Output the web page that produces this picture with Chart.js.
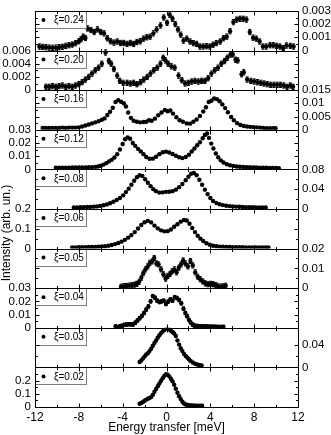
<!DOCTYPE html>
<html><head><meta charset="utf-8">
<script src="https://cdn.jsdelivr.net/npm/chart.js@4/dist/chart.umd.min.js"></script>
<style>html,body{margin:0;padding:0;background:#fff;}#wrap{width:331px;height:435px;position:relative;}</style>
</head><body><div id="wrap"><canvas id="c" width="331" height="435"></canvas></div>
<script>
// ---- data (energy in meV, intensity in arb. units) ----
const panelNames = ['ξ=0.24','ξ=0.20','ξ=0.16','ξ=0.12','ξ=0.08','ξ=0.06','ξ=0.05','ξ=0.04','ξ=0.03','ξ=0.02'];
const xTickLabels = [-12,-8,-4,0,4,8,12];
const yMax   = [0.003,0.006,0.015,0.03,0.08,0.2,0.02,0.03,0.07,0.3];
const yMajor = [0.001,0.002,0.005,0.01,0.04,0.1,0.01,0.01,0.04,0.1];
const labelSide = ['right','left','right','left','right','left','right','left','right','left'];
const labelTop = [true,true,true,true,true,true,true,true,false,false];
const errorBar = [0.0002,0.0004,0,0,0,0,0.0013,0.0013,0,0];

const e024 = [-11.6,-11.3,-11.0,-10.7,-10.4,-10.1,-9.8,-9.5,-9.2,-8.9,-8.6,-8.3,-8.0,-7.8,-7.6,-7.4,-7.2,-6.9,-6.6,-6.3,-6.0,-5.7,-5.4,-5.1,-4.8,-4.5,-4.2,-3.9,-3.6,-3.3,-3.0,-2.7,-2.4,-2.1,-1.8,-1.5,-1.2,-0.9,-0.55,-0.25,0.05,0.3,0.55,0.8,1.05,1.3,1.55,1.85,2.15,2.45,2.75,3.05,3.35,3.65,3.95,4.25,4.55,4.9,5.2,5.5,5.8,6.1,6.4,6.7,7.0,7.3,7.6,7.9,8.2,8.5,8.8,9.1,9.45,9.75,10.05,10.35,10.65,10.95,11.3,11.6];
const i024 = [.00030,.00027,.00025,.00022,.00020,.00022,.00025,.00028,.00035,.00040,.00045,.00055,.00070,.00085,.00105,.00095,.00167,.00155,.00140,.00160,.00140,.00130,.00093,.00070,.00060,.00068,.00057,.00057,.00050,.00057,.00050,.00064,.00070,.00090,.00100,.00105,.00130,.00160,.00190,.00250,.00210,.00270,.00240,.00200,.00160,.00120,.00075,.00090,.00068,.00056,.00050,.00030,.00030,.00033,.00030,.00044,.00056,.00068,.00093,.00105,.00146,.00215,.00234,.00240,.00240,.00234,.00140,.00097,.00090,.00068,.00030,.00030,.00040,.00040,.00035,.00030,.00018,.00038,.00035,.00030];

const e020 = [-11.0,-10.7,-10.4,-10.1,-9.8,-9.5,-9.2,-8.9,-8.6,-8.3,-8.0,-7.7,-7.4,-7.1,-6.8,-6.5,-6.2,-5.9,-5.56,-5.26,-5.05,-4.8,-4.5,-4.26,-3.95,-3.6,-3.3,-3.0,-2.7,-2.37,-2.07,-1.76,-1.46,-1.16,-0.85,-0.55,-0.3,-0.09,0.15,0.45,0.75,1.1,1.4,1.7,2.0,2.3,2.6,2.9,3.2,3.5,3.8,4.1,4.4,4.7,5.0,5.3,5.55,5.84,6.05,6.3,6.5,6.85,7.05,7.36,7.7,8.0,8.3,8.6,8.9,9.2,9.5,9.8,10.1,10.4,10.7,11.0,11.3,11.55];
const i020 = [.0005,.0005,.0006,.0005,.0006,.0007,.0005,.0006,.0005,.0007,.0009,.0012,.0016,.0020,.0025,.0030,.0034,.0040,.0057,.0044,.0040,.0032,.0022,.0014,.0011,.0011,.0010,.0011,.0009,.0012,.0016,.0020,.0025,.0030,.0034,.0040,.0049,.0045,.0040,.0036,.0034,.0022,.0015,.0010,.0011,.0013,.0014,.0013,.0014,.0014,.0018,.0025,.0030,.0034,.0040,.0044,.0049,.0054,.0054,.0046,.0045,.0024,.0027,.0016,.0014,.0013,.0012,.0011,.0010,.0009,.0008,.0008,.0008,.0008,.0007,.0005,.0007,.0005];

const e016 = [-11.3,-11.0,-10.7,-10.4,-10.1,-9.8,-9.5,-9.2,-8.9,-8.6,-8.3,-8.0,-7.7,-7.4,-7.1,-6.8,-6.5,-6.2,-5.9,-5.65,-5.4,-5.15,-4.9,-4.65,-4.4,-4.15,-3.9,-3.7,-3.5,-3.25,-3.0,-2.7,-2.4,-2.1,-1.85,-1.6,-1.35,-1.05,-0.75,-0.45,-0.15,0.1,0.35,0.6,0.9,1.2,1.5,1.85,2.15,2.45,2.75,3.05,3.35,3.6,3.85,4.1,4.35,4.6,4.85,5.1,5.35,5.6,5.9,6.15,6.45,6.75,7.05,7.35,7.65,7.95,8.25,8.55,8.85,9.15,9.45,9.75,9.95];
const i016 = [.0007,.0007,.0007,.0007,.0007,.0007,.0008,.0007,.0008,.0008,.0008,.0009,.0012,.0016,.0020,.0024,.0028,.0032,.0038,.0043,.0056,.0068,.0083,.0105,.0112,.0106,.0100,.0088,.0065,.0045,.0034,.0030,.0028,.0029,.0030,.0036,.0034,.0042,.0055,.0065,.0075,.0070,.0073,.0061,.0047,.0036,.0030,.0024,.0023,.0030,.0039,.0052,.0069,.0085,.0105,.0110,.0118,.0116,.0108,.0096,.0082,.0066,.0048,.0036,.0025,.0018,.0014,.0012,.0011,.0010,.0009,.0008,.0007,.0006,.0006,.0006,.0006];

const e012 = [-10.1,-9.8,-9.5,-9.2,-8.9,-8.6,-8.3,-8.0,-7.7,-7.4,-7.1,-6.8,-6.5,-6.25,-6.0,-5.75,-5.5,-5.25,-5.0,-4.75,-4.5,-4.25,-4.0,-3.78,-3.55,-3.32,-3.08,-2.85,-2.6,-2.35,-2.1,-1.85,-1.55,-1.25,-0.95,-0.65,-0.35,-0.05,0.25,0.55,0.85,1.15,1.45,1.75,2.05,2.3,2.55,2.8,3.05,3.3,3.5,3.7,3.88,4.08,4.28,4.5,4.72,4.95,5.2,5.5,5.8,6.1,6.4,6.7,7.0,7.3,7.6,7.9,8.2,8.5,8.8,9.1,9.4,9.7,10.0,10.25];
const i012 = [.0012,.0012,.0013,.0013,.0013,.0014,.0014,.0014,.0015,.0015,.0016,.0017,.0019,.0022,.0027,.0036,.0047,.0060,.0072,.0090,.0115,.0150,.0192,.0228,.0242,.0232,.0200,.0178,.0155,.0136,.0115,.0094,.0080,.0081,.0095,.0115,.0130,.0134,.0128,.0116,.0103,.0092,.0085,.0093,.0110,.0135,.0158,.0182,.0205,.0235,.0260,.0272,.0238,.0195,.0158,.0120,.0092,.0068,.0052,.0039,.0031,.0026,.0022,.0020,.0018,.0017,.0016,.0015,.0014,.0013,.0012,.0012,.0011,.0010,.0010,.0009];

const e008 = [-8.45,-8.15,-7.85,-7.55,-7.25,-6.95,-6.65,-6.35,-6.05,-5.75,-5.45,-5.15,-4.85,-4.55,-4.25,-3.95,-3.7,-3.45,-3.2,-2.95,-2.7,-2.45,-2.2,-1.95,-1.7,-1.45,-1.2,-0.95,-0.65,-0.35,-0.05,0.25,0.55,0.85,1.15,1.45,1.75,2.0,2.25,2.5,2.75,3.0,3.25,3.5,3.75,4.0,4.25,4.55,4.85,5.15,5.45,5.75,6.05,6.35,6.65,6.95,7.25,7.55,7.85,8.15,8.45,8.75,9.05];
const i008 = [.0030,.0032,.0034,.0036,.0039,.0042,.0046,.0052,.0062,.0075,.0092,.0115,.0145,.0180,.0220,.0275,.0340,.0410,.0490,.0570,.0640,.0680,.0665,.0600,.0530,.0460,.0400,.0360,.0330,.0335,.0345,.0348,.0360,.0390,.0440,.0505,.0580,.0650,.0710,.0725,.0680,.0590,.0490,.0390,.0300,.0220,.0160,.0120,.0095,.0078,.0066,.0058,.0052,.0047,.0043,.0040,.0037,.0035,.0033,.0032,.0031,.0030,.0030];

const e006 = [-8.6,-8.3,-8.0,-7.7,-7.4,-7.1,-6.8,-6.5,-6.2,-5.9,-5.6,-5.3,-5.0,-4.7,-4.4,-4.1,-3.8,-3.5,-3.2,-2.9,-2.6,-2.3,-2.0,-1.7,-1.4,-1.1,-0.8,-0.5,-0.2,0.1,0.4,0.7,1.0,1.3,1.6,1.85,2.1,2.35,2.6,2.85,3.1,3.35,3.65,3.95,4.25,4.55,4.85,5.15,5.45,5.75,6.05,6.35,6.65,6.95,7.25,7.55,7.85,8.15,8.45,8.75,9.05,9.3];
const i006 = [.0060,.0062,.0065,.0068,.0070,.0075,.0080,.0085,.0095,.0105,.0118,.0140,.0180,.0225,.0280,.0350,.0440,.0550,.0680,.0830,.1010,.1190,.1330,.1400,.1320,.1160,.1020,.0920,.0870,.0880,.0960,.1100,.1230,.1360,.1440,.1420,.1250,.1040,.0830,.0650,.0500,.0380,.0270,.0195,.0145,.0115,.0098,.0088,.0080,.0075,.0071,.0068,.0066,.0064,.0062,.0060,.0059,.0058,.0057,.0056,.0055,.0055];

const e005 = [-4.15,-3.9,-3.65,-3.4,-3.15,-2.9,-2.7,-2.5,-2.3,-2.12,-1.92,-1.72,-1.52,-1.32,-1.12,-0.92,-0.72,-0.5,-0.28,-0.08,0.12,0.32,0.52,0.72,0.92,1.12,1.32,1.52,1.72,1.95,2.18,2.4,2.62,2.85,3.08,3.32,3.55,3.78,4.02,4.26,4.5,4.75,5.0,5.2,5.4];
const i005 = [.0007,.0010,.0011,.0013,.0015,.0018,.0022,.0032,.0052,.0075,.0095,.0110,.0128,.0135,.0152,.0125,.0120,.0095,.0070,.0048,.0062,.0072,.0085,.0095,.0080,.0103,.0120,.0140,.0125,.0110,.0137,.0115,.0080,.0058,.0045,.0034,.0024,.0020,.0022,.0020,.0015,.0009,.0008,.0009,.0012];

const e004 = [-4.65,-4.45,-4.25,-4.05,-3.85,-3.65,-3.45,-3.25,-3.05,-2.85,-2.65,-2.45,-2.25,-2.05,-1.85,-1.65,-1.45,-1.25,-1.05,-0.85,-0.65,-0.45,-0.25,-0.05,0.15,0.35,0.55,0.75,0.95,1.15,1.35,1.55,1.72,1.88,2.05,2.2,2.38,2.55,2.75,2.95,3.2,3.45,3.7,3.95,4.2,4.45,4.7,4.95,5.2];
const i004 = [.0010,.0005,.0012,.0015,.0022,.0025,.0027,.0026,.0025,.0038,.0055,.0072,.0090,.0112,.0138,.0162,.0200,.0240,.0228,.0205,.0195,.0200,.0205,.0180,.0198,.0215,.0205,.0232,.0225,.0210,.0185,.0145,.0112,.0088,.0060,.0040,.0025,.0016,.0014,.0012,.0011,.0010,.0010,.0009,.0008,.0008,.0007,.0006,.0007];

const e003 = [-2.45,-2.3,-2.15,-2.0,-1.85,-1.7,-1.55,-1.4,-1.25,-1.1,-0.95,-0.8,-0.65,-0.5,-0.35,-0.2,-0.05,0.1,0.25,0.4,0.55,0.7,0.85,1.0,1.15,1.3,1.45,1.6,1.75,1.9,2.05,2.2,2.4,2.6,2.8,3.0,3.2];
const i003 = [.0094,.0122,.0158,.0194,.0230,.0252,.0288,.0331,.0382,.0432,.0475,.0526,.0569,.0605,.0634,.0662,.0677,.0684,.0670,.0648,.0626,.0598,.0554,.0475,.0403,.0338,.0288,.0238,.0202,.0173,.0144,.0115,.0086,.0065,.0050,.0043,.0036];

const e002 = [-2.45,-2.3,-2.15,-2.0,-1.85,-1.7,-1.55,-1.4,-1.25,-1.1,-0.95,-0.8,-0.65,-0.5,-0.35,-0.2,-0.05,0.1,0.25,0.4,0.55,0.7,0.85,1.0,1.15,1.3,1.45,1.6,1.75,1.9,2.1,2.3,2.5,2.7,2.9,3.1,3.25];
const i002 = [.025,.030,.038,.047,.056,.063,.068,.075,.092,.115,.137,.158,.178,.198,.218,.236,.248,.245,.232,.214,.195,.168,.138,.108,.082,.060,.040,.026,.019,.015,.013,.012,.011,.010,.010,.010,.010];

const energies = [e024,e020,e016,e012,e008,e006,e005,e004,e003,e002];
const intensities = [i024,i020,i016,i012,i008,i006,i005,i004,i003,i002];

// ---- chart ----
const FONT = 'Liberation Sans';
function isMajor(v, step){ const r = v/step; return Math.abs(r - Math.round(r)) < 1e-6; }
function fmt(v){ return String(parseFloat(v.toPrecision(6))); }

const datasets = energies.map((e,i)=>({
  label: panelNames[i],
  data: e.map((x,k)=>({x:x, y:intensities[i][k]})),
  xAxisID:'x', yAxisID:'yL'+i,
  showLine:false, pointRadius:2.2, pointHoverRadius:2.2,
  pointBackgroundColor:'#000', pointBorderWidth:0, pointBorderColor:'#000'
}));

function mkY(i, side){
  return {
    type:'linear', position:side, stack:'panels', stackWeight:1,
    weight: side==='left' ? 10-i : i,
    min:0, max:yMax[i],
    ticks:{
      stepSize: yMajor[i]/2, autoSkip:false, padding:4, color:'#000',
      font:{family:FONT, size:11.5},
      callback:(v)=>{
        if (side !== labelSide[i]) return '';
        if (!isMajor(v, yMajor[i])) return '';
        if (!labelTop[i] && Math.abs(v - yMax[i]) < 1e-9) return '';
        return fmt(v);
      }
    },
    grid:{display:false, drawTicks:false},
    border:{display:false},
    afterFit:(s)=>{ s.width = side==='left' ? 35 : 33; }
  };
}

const scales = {
  x:{
    type:'linear', position:'bottom', min:-12, max:12,
    ticks:{stepSize:2, autoSkip:false, maxRotation:0, padding:3, color:'#000',
      font:{family:FONT, size:12},
      callback:(v)=> xTickLabels.includes(v) ? String(v) : ''},
    grid:{display:false, drawTicks:false},
    border:{display:false},
    title:{display:true, text:'Energy transfer [meV]', color:'#000', font:{family:FONT, size:12}, padding:{top:0,bottom:0}},
    afterFit:(s)=>{ s.height = 28; }
  }
};
for (let i=0;i<10;i++){ scales['yL'+i] = mkY(i,'left'); scales['yR'+i] = mkY(i,'right'); }

const panelPlugin = {
  id:'panels',
  beforeDatasetsDraw(chart){
    const ctx = chart.ctx, xs = chart.scales.x;
    ctx.save(); ctx.strokeStyle='#000'; ctx.lineWidth=1;
    energies.forEach((e,i)=>{
      const err = errorBar[i]; if (!err) return;
      const ys = chart.scales['yL'+i];
      e.forEach((x,k)=>{
        const v = intensities[i][k];
        const px = xs.getPixelForValue(x);
        const y1 = ys.getPixelForValue(Math.max(0,v-err)), y2 = ys.getPixelForValue(v+err);
        ctx.beginPath();
        ctx.moveTo(px,y1); ctx.lineTo(px,y2);
        ctx.moveTo(px-1.5,y1); ctx.lineTo(px+1.5,y1);
        ctx.moveTo(px-1.5,y2); ctx.lineTo(px+1.5,y2);
        ctx.stroke();
      });
    });
    ctx.restore();
  },
  afterDatasetsDraw(chart){
    const ctx = chart.ctx, ca = chart.chartArea, xs = chart.scales.x;
    const c = (v)=> Math.round(v)+0.5;
    ctx.save();
    ctx.strokeStyle='#000'; ctx.lineWidth=1;
    // legend boxes
    for (let i=0;i<10;i++){
      const ys = chart.scales['yL'+i];
      const bx = c(ca.left), by = c(ys.top);
      ctx.fillStyle='#fff'; ctx.fillRect(bx, by, 51, 17);
      ctx.strokeStyle='#808080'; ctx.strokeRect(bx, by, 51, 17);
      ctx.fillStyle='#000';
      ctx.beginPath(); ctx.arc(ca.left+8.5, ys.top+9, 2, 0, Math.PI*2); ctx.fill();
      ctx.font = '10px "'+FONT+'"'; ctx.textBaseline='middle'; ctx.textAlign='left';
      ctx.fillText(panelNames[i], ca.left+19, ys.top+9.5);
    }
    ctx.strokeStyle='#000';
    // frames and ticks
    for (let i=0;i<10;i++){
      const ys = chart.scales['yL'+i];
      const t = c(ys.top), b = c(ys.bottom);
      ctx.beginPath();
      ctx.moveTo(c(ca.left), t); ctx.lineTo(c(ca.right), t);
      ctx.moveTo(c(ca.left), b); ctx.lineTo(c(ca.right), b);
      xs.ticks.forEach(tk=>{
        const px = c(xs.getPixelForValue(tk.value));
        const len = isMajor(tk.value,4) ? 4 : 2.5;
        ctx.moveTo(px, t); ctx.lineTo(px, t+len);
        ctx.moveTo(px, b); ctx.lineTo(px, b-len);
      });
      ys.ticks.forEach(tk=>{
        const py = c(ys.getPixelForValue(tk.value));
        const len = isMajor(tk.value, yMajor[i]) ? 4 : 2.5;
        ctx.moveTo(c(ca.left), py); ctx.lineTo(c(ca.left)+len, py);
        ctx.moveTo(c(ca.right), py); ctx.lineTo(c(ca.right)-len, py);
      });
      ctx.stroke();
    }
    ctx.beginPath();
    ctx.moveTo(c(ca.left), c(ca.top)); ctx.lineTo(c(ca.left), c(ca.bottom));
    ctx.moveTo(c(ca.right), c(ca.top)); ctx.lineTo(c(ca.right), c(ca.bottom));
    ctx.stroke();
    // y-axis title
    ctx.fillStyle='#000';
    ctx.translate(7, 233); ctx.rotate(-Math.PI/2);
    ctx.font = '12px "'+FONT+'"'; ctx.textAlign='center'; ctx.textBaseline='middle';
    ctx.fillText('Intensity (arb. un.)', 0, 0);
    ctx.restore();
  }
};

new Chart(document.getElementById('c'), {
  type:'scatter',
  data:{datasets},
  options:{
    responsive:false, animation:false, devicePixelRatio:1,
    layout:{padding:{top:5,left:0,right:0,bottom:0}},
    plugins:{legend:{display:false}, tooltip:{enabled:false}, title:{display:false}},
    scales
  },
  plugins:[panelPlugin]
});
</script></body></html>
